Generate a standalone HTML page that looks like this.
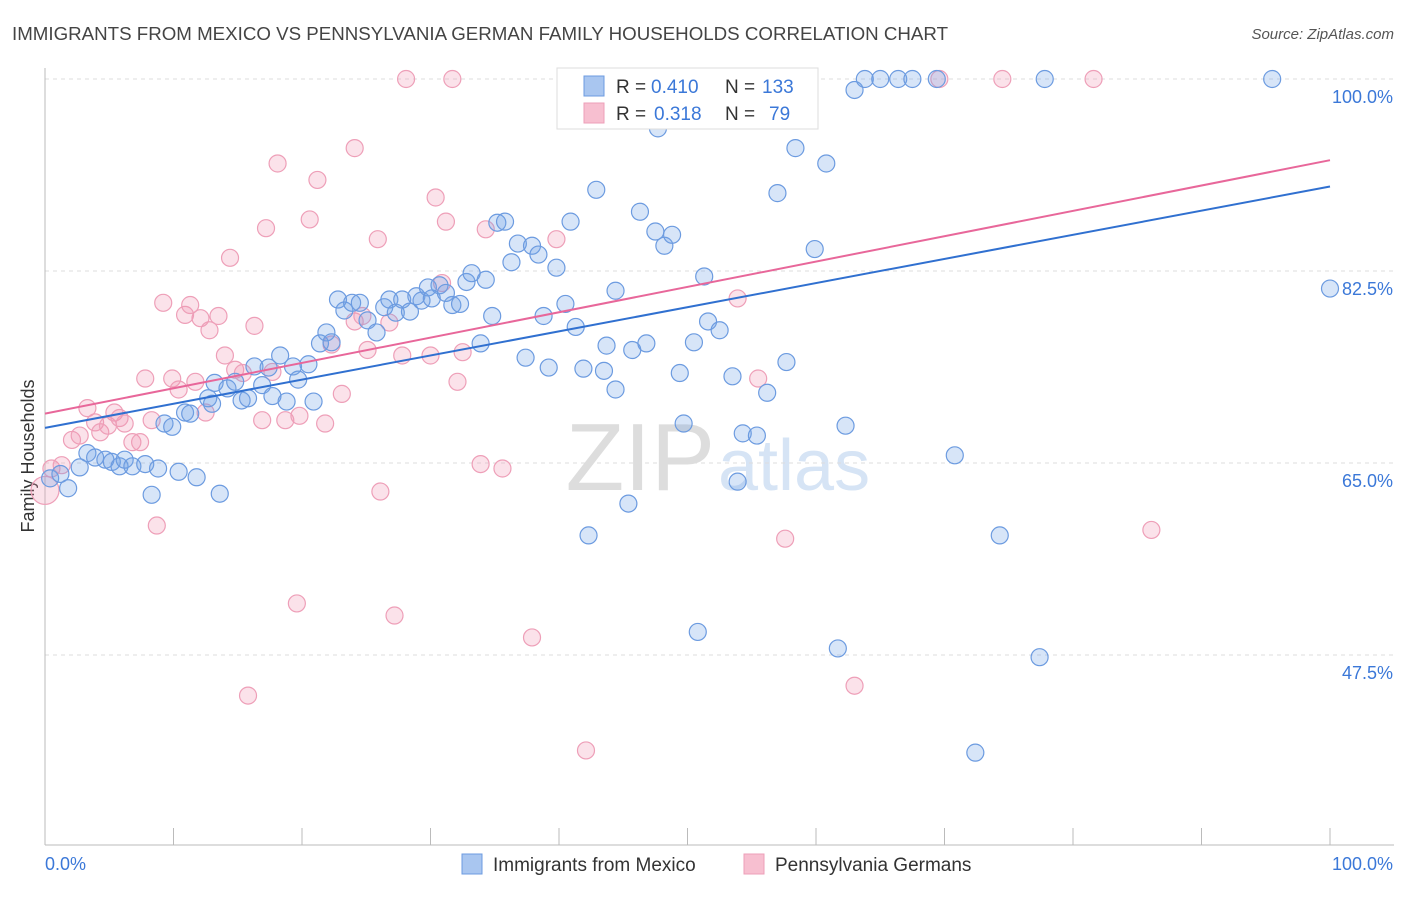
<!DOCTYPE html>
<html><head><meta charset="utf-8"><style>
body{margin:0;background:#fff;font-family:"Liberation Sans",sans-serif;}
svg text{font-family:"Liberation Sans",sans-serif;}
</style></head><body>
<svg id="chart" width="1406" height="892">
<text x="12" y="40" font-size="18" fill="#444" textLength="936" lengthAdjust="spacingAndGlyphs">IMMIGRANTS FROM MEXICO VS PENNSYLVANIA GERMAN FAMILY HOUSEHOLDS CORRELATION CHART</text>
<text x="1394" y="39" font-size="15" fill="#555" font-style="italic" text-anchor="end">Source: ZipAtlas.com</text>
<text x="34" y="456" font-size="18" fill="#333" text-anchor="middle" transform="rotate(-90 34 456)">Family Households</text>
<text x="715" y="490" font-size="96" fill="#ddd" text-anchor="end" font-family="Liberation Serif">ZIP</text>
<text x="718" y="490" font-size="72" fill="#d6e4f5">atlas</text>
<g id="grid"></g><g id="axes"></g><g id="pts"></g><g id="lines"></g>
<g>
<rect x="557" y="68" width="261" height="61" fill="#fff" stroke="#ddd"/>
<rect x="584" y="76" width="20" height="20" fill="#a9c6f0" stroke="#6c9be0"/>
<rect x="584" y="103" width="20" height="20" fill="#f7bfd0" stroke="#ee9fb8"/>
<text x="616" y="93" font-size="19" fill="#333">R =</text>
<text x="651" y="93" font-size="19" fill="#3b78d8">0.410</text>
<text x="725" y="93" font-size="19" fill="#333">N =</text>
<text x="762" y="93" font-size="19" fill="#3b78d8">133</text>
<text x="616" y="120" font-size="19" fill="#333">R =</text>
<text x="654" y="120" font-size="19" fill="#3b78d8">0.318</text>
<text x="725" y="120" font-size="19" fill="#333">N =</text>
<text x="769" y="120" font-size="19" fill="#3b78d8">79</text>
</g>
<g>
<rect x="462" y="854" width="20" height="20" fill="#a9c6f0" stroke="#6c9be0"/>
<text x="493" y="871" font-size="19" fill="#333">Immigrants from Mexico</text>
<rect x="744" y="854" width="20" height="20" fill="#f7bfd0" stroke="#ee9fb8"/>
<text x="775" y="871" font-size="19" fill="#333">Pennsylvania Germans</text>
</g>
</svg>
<script>
const yTicks=[100,82.5,65,47.5];
const yTickLabels=["100.0%","82.5%","65.0%","47.5%"];
const xEndLabels=["0.0%","100.0%"];
const blueX=[0.4,1.2,1.8,2.7,3.3,3.9,4.7,5.2,5.8,6.2,6.8,7.8,8.3,8.8,9.3,9.9,10.4,10.9,11.3,11.8,12.7,13.0,13.2,13.6,14.2,14.8,15.3,15.8,16.3,16.9,17.4,17.7,18.3,18.8,19.3,19.7,20.5,20.9,21.4,21.9,22.3,22.8,23.3,23.9,24.5,25.1,25.8,26.4,26.8,27.3,27.8,28.4,28.9,29.3,29.8,30.1,30.7,31.2,31.7,32.3,32.8,33.2,33.9,34.3,34.8,35.2,35.8,36.3,36.8,37.4,37.9,38.4,38.8,39.2,39.8,40.5,40.9,41.3,41.9,42.3,42.9,43.5,43.7,44.4,44.4,45.4,45.7,46.3,46.8,47.5,47.7,48.2,48.8,49.4,49.7,50.5,50.8,51.3,51.6,52.5,53.5,53.9,54.3,55.4,56.2,57.0,57.7,58.4,59.9,60.8,61.7,62.3,63.0,63.8,65.0,66.4,67.5,69.4,70.8,72.4,74.3,77.4,77.8,95.5,100,41.2,54.5,58.8];
const blueY=[63.6,64.0,62.7,64.6,65.9,65.5,65.3,65.1,64.7,65.3,64.7,64.9,62.1,64.5,68.6,68.3,64.2,69.6,69.5,63.7,70.9,70.4,72.3,62.2,71.8,72.4,70.7,70.9,73.8,72.1,73.7,71.1,74.8,70.6,73.8,72.6,74.0,70.6,75.9,76.9,76.0,79.9,78.9,79.6,79.6,78.0,76.9,79.2,79.9,78.7,79.9,78.8,80.2,79.8,81.0,80.0,81.2,80.5,79.4,79.5,81.5,82.3,75.9,81.7,78.4,86.9,87.0,83.3,85.0,74.6,84.8,84.0,78.4,73.7,82.8,79.5,87.0,77.4,73.6,58.4,89.9,73.4,75.7,80.7,71.7,61.3,75.3,87.9,75.9,86.1,95.5,84.8,85.8,73.2,68.6,76.0,49.6,82.0,77.9,77.1,72.9,63.3,67.7,67.5,71.4,89.6,74.2,93.7,84.5,92.3,48.1,68.4,99.0,100,100,100,100,100,65.7,38.6,58.4,47.3,100,100,80.9,100,100,100];
const pinkX=[0,0.5,1.3,2.1,2.7,3.3,3.9,4.3,4.9,5.4,5.8,6.2,6.8,7.4,7.8,8.3,8.7,9.2,9.9,10.4,10.9,11.3,11.7,12.1,12.5,12.8,13.5,14.0,14.4,14.8,15.4,15.8,16.3,16.9,17.2,17.7,18.1,18.7,19.6,19.8,20.6,21.2,21.8,22.3,23.1,24.1,24.1,24.7,25.1,25.9,26.1,26.8,27.2,28.1,27.8,30.0,30.4,30.9,31.2,31.7,32.1,32.5,33.9,34.3,35.6,37.9,39.8,41.2,42.1,44.7,49.4,53.9,55.5,57.6,58.8,63.0,69.6,74.5,81.6,86.1];
const pinkY=[62.5,64.5,64.8,67.1,67.5,70.0,68.7,67.8,68.4,69.6,69.1,68.6,66.9,66.9,72.7,68.9,59.3,79.6,72.7,71.7,78.5,79.4,72.4,78.2,69.6,77.1,78.4,74.8,83.7,73.5,73.2,43.8,77.5,68.9,86.4,73.3,92.3,68.9,52.2,69.3,87.2,90.8,68.6,75.8,71.3,93.7,77.9,78.4,75.3,85.4,62.4,77.8,51.1,100,74.8,74.8,89.2,81.4,87.0,100,72.4,75.1,64.9,86.3,64.5,49.1,85.4,100,38.8,100,100,80.0,72.7,58.1,100,44.7,100,100,100,58.9];
const X0=45,X1=1330,Y100=79,PX=192/17.5;
const xs=v=>X0+(X1-X0)*v/100, ys=v=>Y100+(100-v)*PX;
const NS='http://www.w3.org/2000/svg';
function mk(t,a,p){const e=document.createElementNS(NS,t);for(const k in a)e.setAttribute(k,a[k]);p.appendChild(e);return e;}
const grid=document.getElementById('grid'),axes=document.getElementById('axes'),pts=document.getElementById('pts'),lines=document.getElementById('lines');
yTicks.forEach((t,i)=>{
 const l=mk('line',{x1:X0,x2:1394,y1:ys(t),y2:ys(t),stroke:'#ddd','stroke-dasharray':'4,4'},grid);
 
 
 const tx=mk('text',{x:1393,y:ys(t)+24,'font-size':18,fill:'#3b78d8','text-anchor':'end'},axes);
 tx.textContent=yTickLabels[i];
 
 
});
mk('line',{x1:X0,x2:X0,y1:68,y2:845,stroke:'#bbb'},axes);
mk('line',{x1:X0,x2:1394,y1:845,y2:845,stroke:'#bbb'},axes);
for(let i=0;i<=10;i++){const x=X0+i*128.5;mk('line',{x1:x,x2:x,y1:828,y2:845,stroke:'#bbb'},axes);}
const xl=mk('text',{x:45,y:870,'font-size':18,fill:'#3b78d8'},axes);xl.textContent=xEndLabels[0];


const xr=mk('text',{x:1393,y:870,'font-size':18,fill:'#3b78d8','text-anchor':'end'},axes);xr.textContent=xEndLabels[1];


function scatter(X,Y,fill,stroke,name){
 const n=Math.min(X.length,Y.length);
 for(let i=0;i<n;i++){
  const c=mk('circle',{cx:xs(X[i]),cy:ys(Y[i]),r:(i===0&&name==='pa-german')?14:8.5,fill:fill,stroke:stroke,'stroke-width':1.2},pts);
  
  
 }
}
scatter(pinkX,pinkY,'rgba(240,150,180,0.28)','#ee9fb8','pa-german');
scatter(blueX,blueY,'rgba(110,160,230,0.28)','#6c9be0','mexico');
const blueLine=[68.2,90.2], pinkLine=[69.5,92.6];
const bl=mk('line',{x1:xs(0),y1:ys(blueLine[0]),x2:xs(100),y2:ys(blueLine[1]),stroke:'#3070d0','stroke-width':2},lines);


const pl=mk('line',{x1:xs(0),y1:ys(pinkLine[0]),x2:xs(100),y2:ys(pinkLine[1]),stroke:'#e8679a','stroke-width':2},lines);


</script>
</body></html>
